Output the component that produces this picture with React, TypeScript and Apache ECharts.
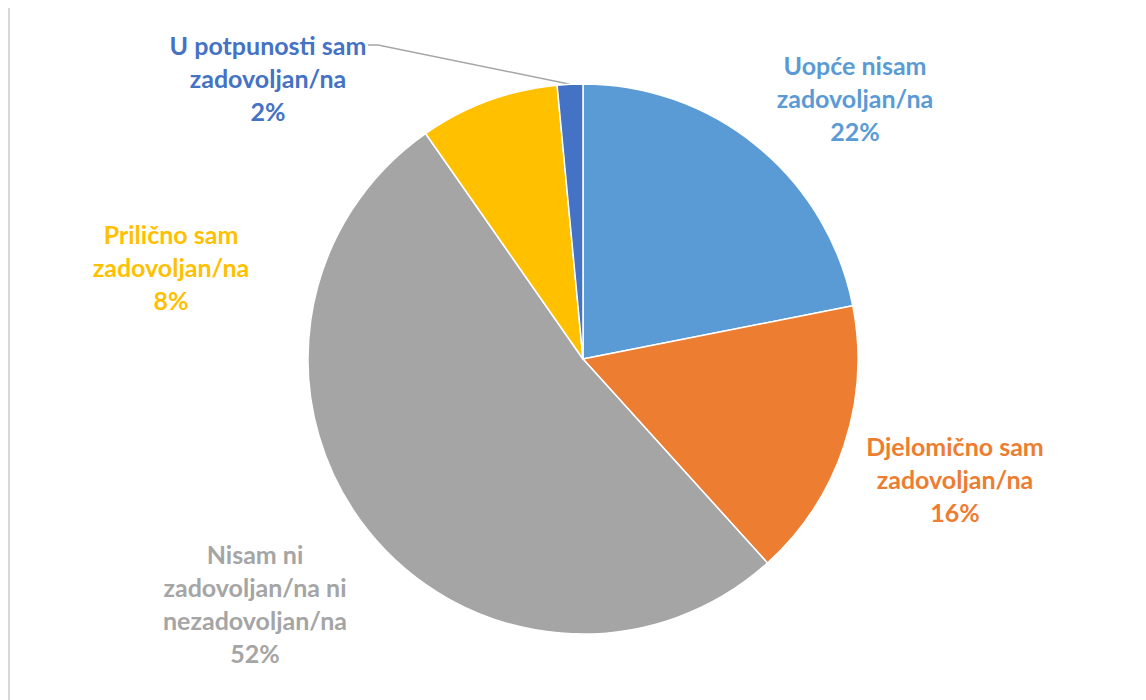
import React, { useEffect, useRef } from "react";
import * as echarts from "echarts";

const categories = [
  "Uopće nisam\nzadovoljan/na",
  "Djelomično sam\nzadovoljan/na",
  "Nisam ni\nzadovoljan/na ni\nnezadovoljan/na",
  "Prilično sam\nzadovoljan/na",
  "U potpunosti sam\nzadovoljan/na",
];
const values = [21.9, 16.4, 52.0, 8.2, 1.5];
const colors = ["#5B9BD5", "#ED7D31", "#A5A5A5", "#FFC000", "#4472C4"];

// label block centres (chart pixels)
const labelPos: [number, number][] = [
  [845, 90],
  [945, 471],
  [245, 595],
  [161, 259],
  [258, 70],
];

export default function App() {
  const ref = useRef<HTMLDivElement>(null);
  useEffect(() => {
    document.body.style.overflow = "hidden";
    const chart = echarts.init(ref.current!, undefined, { renderer: "svg" });
    chart.setOption({
      animation: false,
      backgroundColor: "#ffffff",
      series: [
        {
          type: "pie",
          center: [573, 351],
          radius: 275,
          startAngle: 90,
          clockwise: true,
          avoidLabelOverlap: false,
          itemStyle: { borderColor: "#ffffff", borderWidth: 1.5 },
          label: {
            show: true,
            position: "outside",
            fontFamily: "Lato, 'Open Sans', sans-serif",
            fontWeight: "bold",
            fontSize: 25,
            lineHeight: 33,
            align: "center",
            formatter: (p: any) => `${p.name}\n${Math.round(p.value)}%`,
          },
          labelLine: { show: false },
          labelLayout: (params: any) => {
            const i = params.dataIndex;
            const [x, y] = labelPos[i];
            const out: any = { x, y, align: "center", verticalAlign: "middle" };
            if (i === 4 && params.labelLinePoints && params.labelLinePoints[0]) {
              const a = params.labelLinePoints[0];
              const r = params.labelRect;
              const firstLineY = y - r.height / 2 + 16.5;
              const rightX = x + 100;
              out.labelLinePoints = [
                [a[0], a[1]],
                [rightX + 10, firstLineY],
                [rightX, firstLineY],
              ];
            }
            return out;
          },
          data: categories.map((name, i) => ({
            name,
            value: values[i],
            itemStyle: { color: colors[i] },
            label: { color: colors[i] },
            labelLine:
              i === 4
                ? { show: true, lineStyle: { color: "#A6A6A6", width: 1.5 } }
                : { show: false },
          })),
        },
      ],
    });
    return () => chart.dispose();
  }, []);
  return (
    <div
      ref={ref}
      style={{
        width: 1130,
        height: 692,
        boxSizing: "border-box",
        borderLeft: "2px solid #D9D9D9",
      }}
    />
  );
}
